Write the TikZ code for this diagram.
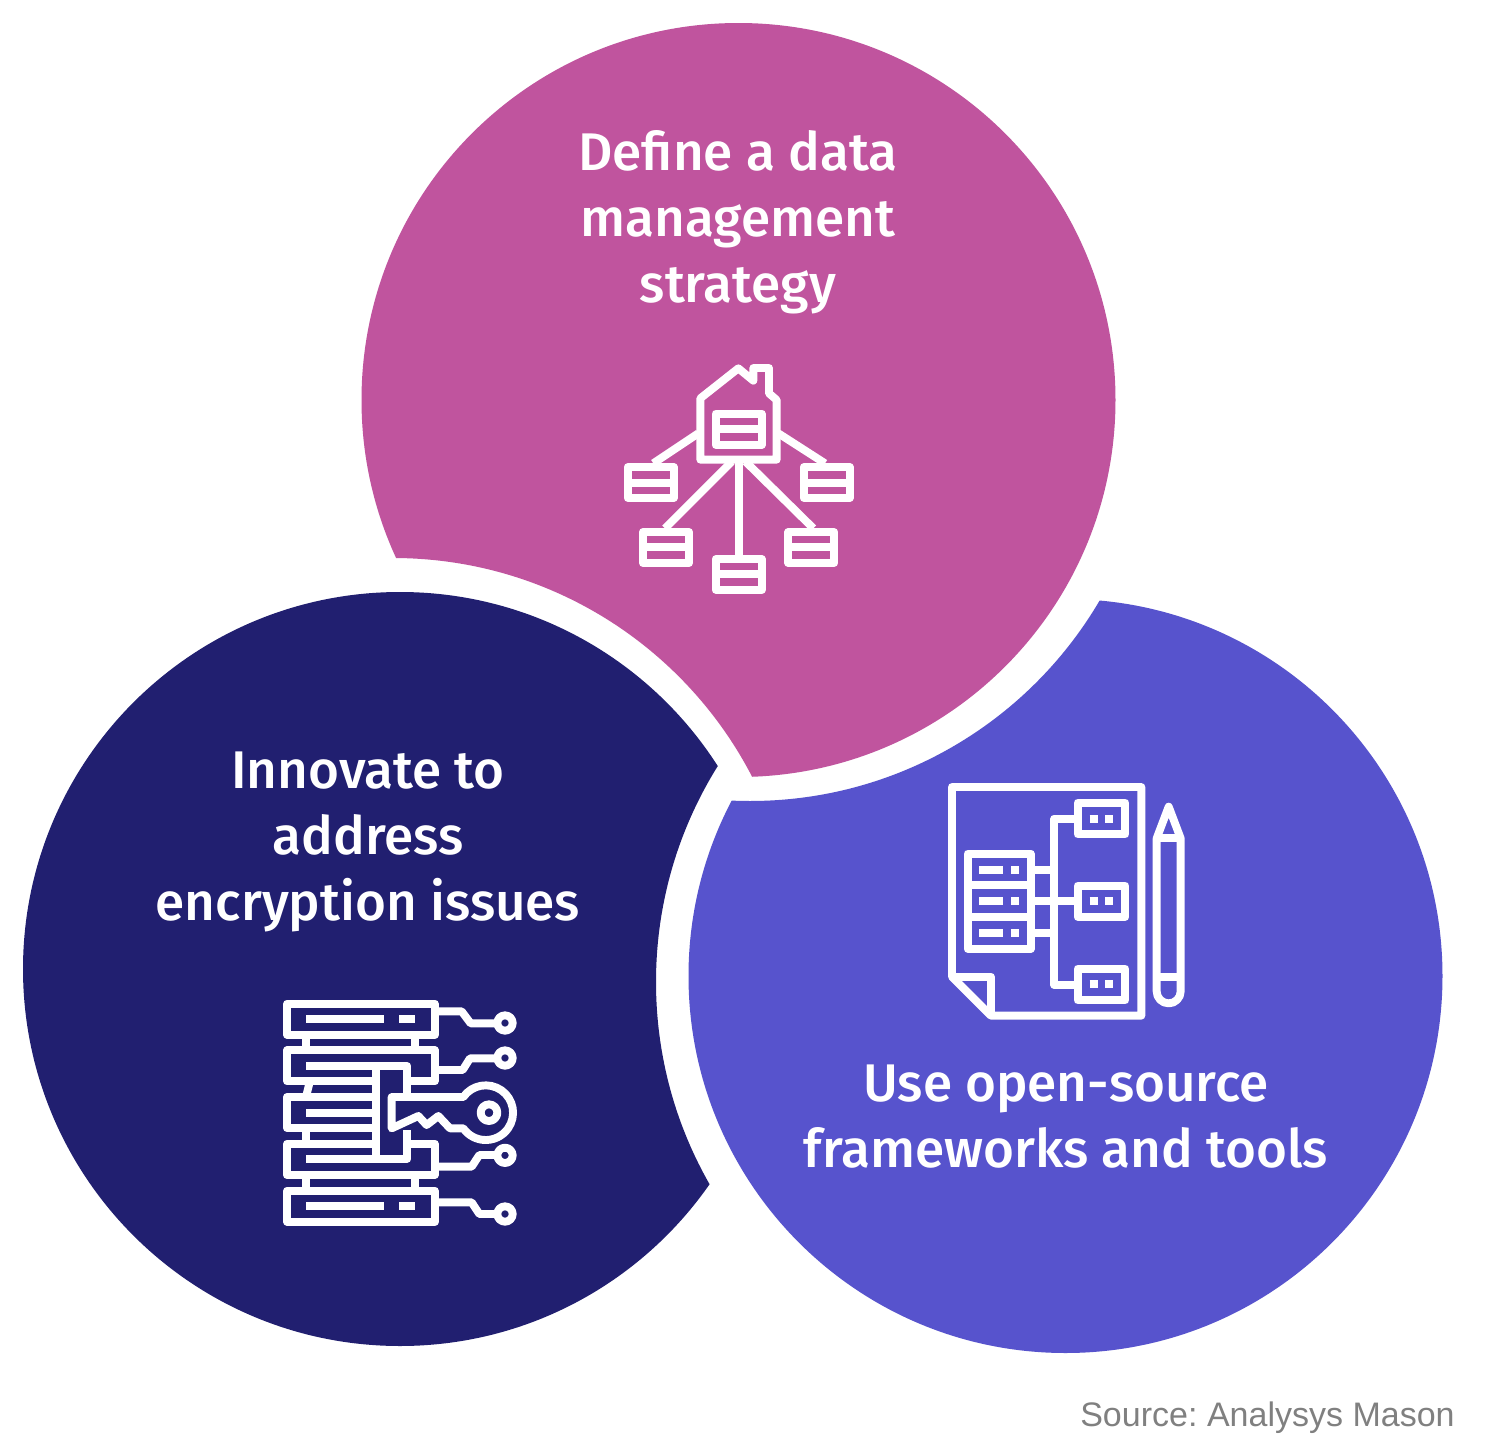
\documentclass[tikz,border=0pt]{standalone}
\usepackage{fontspec}
\setmainfont{Fira Sans}[UprightFont=* Medium]
\newfontfamily\srcfont{Liberation Sans}
\definecolor{magentafill}{HTML}{C0549E}
\definecolor{navyfill}{HTML}{211F70}
\definecolor{bluefill}{HTML}{5753CD}
\definecolor{srcgray}{HTML}{808080}
\tikzset{
  iconline/.style={draw=white,line width=3.95pt,line join=round,line cap=butt},
  iconbar/.style={draw=white,line width=4.1pt,line cap=butt},
  headline/.style={text=white,align=center,font=\fontsize{26.5}{33}\selectfont},
}
\newcommand{\lobe}[7]{%
  \begin{scope}[even odd rule]
    \clip (0,0) rectangle (1490,1456) (#4,#5) circle[radius=#6];
    \fill[#7] (#1,#2) circle[radius=#3];
  \end{scope}}
\begin{document}
\begin{tikzpicture}[x=.5pt,y=-.5pt]
\useasboundingbox (0,0) rectangle (1490,1456);
\fill[white] (0,0) rectangle (1490,1456);
\lobe{738.5}{400}{377}{393}{962}{404}{magentafill}
\lobe{400}{969}{377}{1064}{982}{408}{navyfill}
\lobe{1065.5}{976}{377}{750}{396}{405}{bluefill}

\node[headline] (t1) at (738,222) {Define a data\\management\\strategy};
\node[headline] (t2) at (368,842) {Innovate to\\address\\encryption issues};
\node[headline] (t3) at (1066,1117) {Use open-source\\frameworks and tools};
\node[text=srcgray,font=\srcfont\fontsize{17}{20}\selectfont,anchor=base east,inner sep=0pt] (src) at (1455,1426) {Source:\kern-1.5pt{} Analysys Mason};

% Data management icon
\begin{scope}[shift={(600,350)},x=.16667pt,y=-.16667pt]
  \draw[iconline] (415,55)--(301,145)--(301,329)--(530,329)--(530,150)--(507,130)--(507,54)--(460,54)--(460,92)--cycle;
  \draw[iconline] (347,191) rectangle (485,285) (347,238)--(485,238);
  \draw[iconline] (295,250)--(160,340) (535,250)--(675,340) (395,335)--(195,535) (417,335)--(417,625) (437,335)--(640,535);
  \draw[iconline] (83,351) rectangle (221,444) (83,398)--(221,398);
  \draw[iconline] (611,351) rectangle (749,444) (611,398)--(749,398);
  \draw[iconline] (129,546) rectangle (267,639) (129,592)--(267,592);
  \draw[iconline] (565,546) rectangle (703,639) (565,592)--(703,592);
  \draw[iconline] (347,627) rectangle (485,719) (347,673)--(485,673);
\end{scope}

% Encryption icon
\begin{scope}[shift={(270,990)},x=.16667pt,y=-.16667pt]
  \draw[iconline] (51,41) rectangle (494,134);
  \draw[iconbar] (108,87)--(342,87) (388,87)--(436,87);
  \draw[iconline] (108,134)--(108,181) (435,134)--(435,181);
  \draw[iconline] (307,181)--(51,181)--(51,274)--(307,274) (423,274)--(494,274)--(494,181)--(307,181);
  \draw[iconline] (108,228)--(412,228)--(412,322) (318,228)--(318,506) (412,420)--(412,506)--(108,506);
  \draw[iconline] (118,280)--(108,321);
  \draw[iconline] (307,321)--(51,321)--(51,414)--(307,414);
  \draw[iconline] (108,368)--(307,368);
  \draw[iconline] (108,414)--(108,461);
  \draw[iconline] (307,461)--(51,461)--(51,555)--(494,555)--(494,461)--(412,461);
  \draw[iconline] (108,555)--(108,602) (435,555)--(435,602);
  \draw[iconline] (51,602) rectangle (494,695);
  \draw[iconbar] (108,648)--(342,648) (388,648)--(436,648);
  \draw[iconline] (365,415)--(365,321)--(580,321) arc[start angle=-145,end angle=145,radius=82] --(540,415)--(505,378)--(470,405)--(445,378)--cycle;
  \draw[iconline] (657,368) circle[radius=25];
  \draw[iconline] (505,64)--(575,64)--(602,100)--(672,100) (705,99) circle[radius=23];
  \draw[iconline] (505,240)--(578,240)--(600,205)--(672,205) (705,204) circle[radius=23];
  \draw[iconline] (505,530)--(605,530)--(628,495)--(672,495) (705,496) circle[radius=23];
  \draw[iconline] (505,637)--(605,637)--(628,672)--(672,672) (705,672) circle[radius=23];
\end{scope}

% Open-source tools icon
\begin{scope}[shift={(935,770)},x=.16667pt,y=-.16667pt]
  \draw[iconline] (51,51)--(619,51)--(619,737)--(168,737)--(51,620)--cycle;
  \draw[iconline] (51,620)--(168,620)--(168,737);
  \draw[iconline] (98,251) rectangle (287,537) (98,346)--(287,346) (98,441)--(287,441);
  \draw[iconbar] (133,299)--(205,299) (228,299)--(252,299) (133,394)--(205,394) (228,394)--(252,394) (133,488)--(205,488) (228,488)--(252,488);
  \draw[iconline] (428,146)--(358,146)--(358,645)--(428,645);
  \draw[iconline] (287,299)--(358,299) (287,394)--(428,394) (287,488)--(358,488);
  \draw[iconline] (428,98) rectangle (571,193);
  \draw[iconline] (428,347) rectangle (571,441);
  \draw[iconline] (428,596) rectangle (571,691);
  \draw[iconbar] (464,146)--(488,146) (511,146)--(535,146) (464,394)--(488,394) (511,394)--(535,394) (464,643)--(488,643) (511,643)--(535,643);
  \draw[iconline] (665,205)--(701,110)--(737,205)--(737,664) arc[start angle=0,end angle=180,radius=36] --cycle;
  \draw[iconline] (665,205)--(737,205) (665,620)--(737,620);
\end{scope}
\end{tikzpicture}
\end{document}
